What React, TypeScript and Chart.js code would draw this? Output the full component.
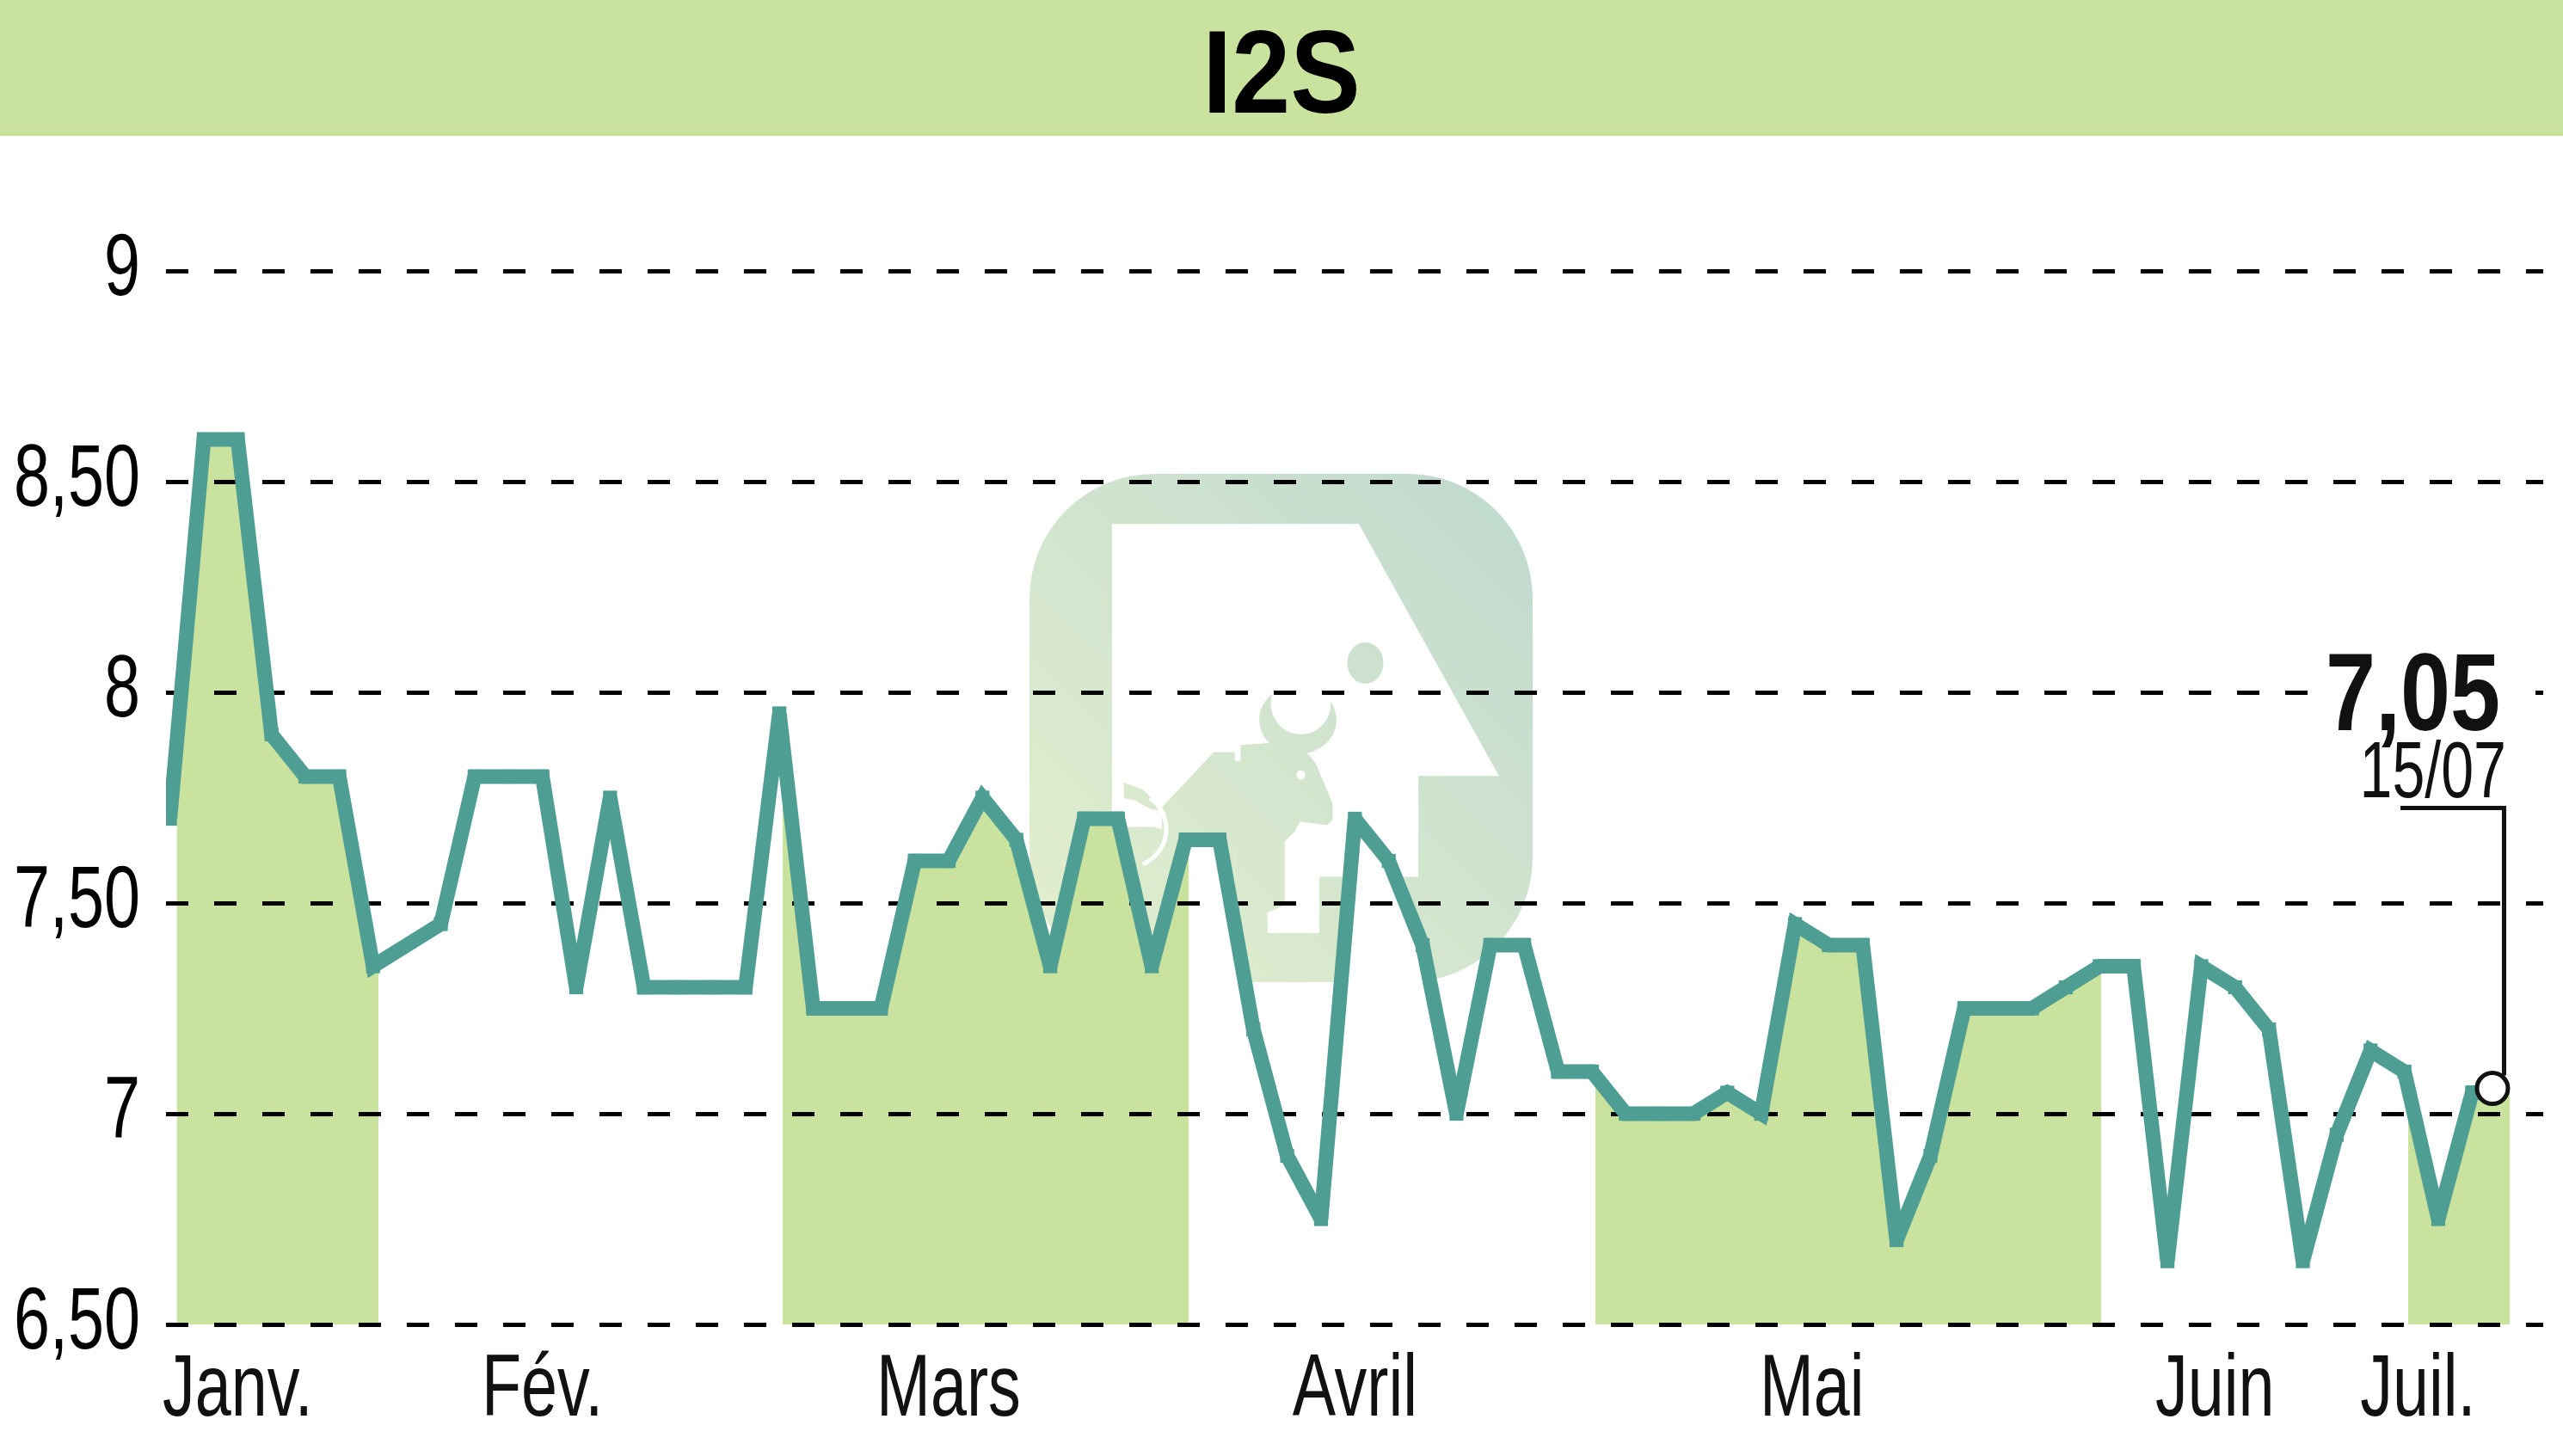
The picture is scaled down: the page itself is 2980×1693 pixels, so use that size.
import React, { useEffect, useRef } from "react";
import { Chart, registerables } from "chart.js";

const sessions = [0,1,2,3,4,5,6,8,9,10,11,12,13,14,15,16,17,18,19,20,21,22,23,24,25,26,27,28,29,30,31,32,33,34,35,36,37,38,39,40,41,42,43,44,45,46,47,48,49,50,51,52,53,54,55,56,57,58,59,60,61,62,63,64,65,66,67,68,68.6];
const prices = [7.7,8.6,8.6,7.9,7.8,7.8,7.35,7.45,7.8,7.8,7.8,7.3,7.75,7.3,7.3,7.3,7.3,7.95,7.25,7.25,7.25,7.6,7.6,7.75,7.65,7.35,7.7,7.7,7.35,7.65,7.65,7.2,6.9,6.75,7.7,7.6,7.4,7.0,7.4,7.4,7.1,7.1,7.0,7.0,7.0,7.05,7.0,7.45,7.4,7.4,6.7,6.9,7.25,7.25,7.25,7.3,7.35,7.35,6.65,7.35,7.3,7.2,6.65,6.95,7.15,7.1,6.75,7.05,7.05];
const lastSession = 68.6;
const lastPrice = 7.06;
const lastPriceLabel = "7,05";
const lastDateLabel = "15/07";
const monthLabels = ["Janv.","Fév.","Mars","Avril","Mai","Juin","Juil."];
const monthTicks = [2,11,23,35,48.5,60.4,66.4];
const shadedMonths = [[0.1,6.15],[18.1,30.1],[42.1,57.05],[66.1,69.1]];
const yTicks = [6.5,7,7.5,8,8.5,9];
const title = "I2S";

const SANS = '"Liberation Sans", sans-serif';
const GREEN = "#C9E39E";
const TEAL = "#4F9E93";
const INK = "#111111";

// No condensed face is installed, so every text is squeezed about its anchor.
const condense = (ctx: any) => {
  if (ctx.__condensed) return;
  ctx.__condensed = true;
  const fill = ctx.fillText.bind(ctx);
  ctx.fillText = (text: string, x: number, y: number) => {
    const bold = String(ctx.font).includes("bold");
    const k = !bold ? 0.74 : text === title ? 0.885 : 0.815;
    ctx.save();
    ctx.translate(x, y);
    ctx.scale(k, 1);
    fill(text, 0, 0);
    ctx.restore();
  };
};

// The watermark logo, traced in page pixels.
const zx = (x: number) => 1150 + x / 2.24;
const zy = (y: number) => 520 + y / 2.412;
const poly = (ctx: CanvasRenderingContext2D, pts: number[][]) => {
  ctx.beginPath();
  pts.forEach(([x, y], i) => (i ? ctx.lineTo(zx(x), zy(y)) : ctx.moveTo(zx(x), zy(y))));
  ctx.closePath();
  ctx.fill();
};

const backdrop = {
  id: "backdrop",
  beforeDraw(chart: any) {
    const ctx: CanvasRenderingContext2D = chart.ctx;
    condense(ctx);
    ctx.save();
    ctx.fillStyle = "#ffffff";
    ctx.fillRect(0, 0, chart.width, chart.height);
    ctx.fillStyle = GREEN;
    ctx.fillRect(0, 0, chart.width, 158);

    const g = ctx.createLinearGradient(1197, 1142, 1782, 551);
    g.addColorStop(0, "#E4F0CD");
    g.addColorStop(1, "#BFD9CF");
    ctx.fillStyle = g;
    ctx.beginPath();
    ctx.roundRect(1197, 551, 585, 591, 145);
    ctx.fill();

    ctx.fillStyle = "#ffffff";
    poly(ctx, [[320,215],[963,215],[1328,922],[1118,922],[1118,1205],[860,1205],[860,1363],[640,1363],[640,1130],[430,1065],[320,1065]]);

    ctx.fillStyle = g;
    poly(ctx, [[450,1010],[585,855],[640,855],[640,880],[655,880],[655,835],[730,830],[830,860],[850,885],[895,1000],[895,1045],[880,1060],[810,1050],[795,1080],[770,1105],[770,1285],[725,1305],[725,1500],[640,1500],[640,1130],[450,1100]]);
    poly(ctx, [[350,940],[400,960],[440,1000],[450,1020],[420,1015],[380,990],[352,985]]);
    ctx.beginPath();
    ctx.ellipse(1509, 837, 45, 40, 0, 0, Math.PI * 2);
    ctx.fill();
    ctx.beginPath();
    ctx.ellipse(1587.5, 771, 21, 24, 0, 0, Math.PI * 2);
    ctx.fill();
    ctx.fillStyle = "#ffffff";
    ctx.beginPath();
    ctx.ellipse(1512.5, 818, 35, 36, 0, 0, Math.PI * 2);
    ctx.fill();
    ctx.beginPath();
    ctx.ellipse(1512.5, 901, 5, 5.5, 0, 0, Math.PI * 2);
    ctx.fill();
    ctx.strokeStyle = "#ffffff";
    ctx.lineWidth = 5;
    ctx.beginPath();
    ctx.ellipse(1306, 964, 50, 46, 0, -0.9, 1.1);
    ctx.stroke();
    ctx.restore();
    ctx.miterLimit = 2;
  },
};

const callout = {
  id: "callout",
  afterDraw(chart: any) {
    const ctx: CanvasRenderingContext2D = chart.ctx;
    const { x, y } = chart.scales;
    const px = x.getPixelForValue(lastSession);
    const py = y.getPixelForValue(lastPrice);
    const eightY = y.getPixelForValue(8);
    ctx.save();
    ctx.fillStyle = "#ffffff";
    ctx.fillRect(px - 200, eightY - 6, 250, 12);
    ctx.strokeStyle = INK;
    ctx.lineWidth = 5;
    ctx.beginPath();
    ctx.moveTo(px - 107, py - 326);
    ctx.lineTo(px + 13.5, py - 326);
    ctx.lineTo(px + 13.5, py - 15);
    ctx.stroke();
    ctx.fillStyle = INK;
    ctx.textAlign = "right";
    ctx.textBaseline = "alphabetic";
    ctx.font = `bold 128px ${SANS}`;
    ctx.fillText(lastPriceLabel, px + 9, py - 417);
    ctx.font = `92px ${SANS}`;
    ctx.fillText(lastDateLabel, px + 16, py - 339);
    ctx.restore();
  },
};

Chart.register(backdrop);
Chart.register(...registerables);

export default function App() {
  const ref = useRef<HTMLCanvasElement>(null);
  useEffect(() => {
    const fillOffset = 0.2;
    const fillTail = { x: 69.2, y: prices[prices.length - 1] };
    const bandFill = (c: any) => {
      const sx = c.chart.scales.x;
      if (!sx || !Number.isFinite(sx.left) || !Number.isFinite(sx.right) || !(sx.right > sx.left)) return GREEN;
      const l = sx.left;
      const w = sx.right - sx.left;
      const g = c.chart.ctx.createLinearGradient(l, 0, sx.right, 0);
      shadedMonths.forEach(([a, b]) => {
        const pa = Math.min(1, Math.max(0, (sx.getPixelForValue(a) - l) / w));
        const pb = Math.min(1, Math.max(0, (sx.getPixelForValue(b) - l) / w));
        g.addColorStop(pa, "#ffffff");
        g.addColorStop(pa, GREEN);
        g.addColorStop(pb, GREEN);
        g.addColorStop(pb, "#ffffff");
      });
      return g;
    };
    const chart = new Chart(ref.current!, {
      type: "line",
      data: {
        datasets: [
          {
            data: [...sessions.slice(0, -1).map((s, i) => ({ x: s + fillOffset, y: prices[i] })), fillTail],
            borderWidth: 0,
            pointRadius: 0,
            backgroundColor: bandFill,
            fill: "origin",
            order: 3,
          },
          {
            data: sessions.map((s, i) => ({ x: s, y: prices[i] })),
            borderColor: TEAL,
            borderWidth: 17,
            borderJoinStyle: "miter",
            borderCapStyle: "butt",
            pointStyle: "rect",
            pointRadius: 11.5,
            pointBorderWidth: 0,
            pointBackgroundColor: TEAL,
            fill: false,
            order: 2,
          },
          {
            data: [{ x: lastSession, y: lastPrice }],
            showLine: false,
            pointRadius: 18,
            pointBorderWidth: 5,
            pointBorderColor: INK,
            pointBackgroundColor: "#ffffff",
            order: 1,
          },
        ],
      } as any,
      options: {
        animation: false,
        responsive: false,
        devicePixelRatio: 1,
        layout: { padding: 0 },
        plugins: {
          legend: { display: false },
          tooltip: { enabled: false },
          filler: { drawTime: "beforeDraw" },
          title: {
            display: true,
            text: title,
            color: "#000000",
            font: { family: SANS, size: 138, weight: "bold", lineHeight: 1 },
            padding: { top: 24, bottom: 153 },
          },
        },
        scales: {
          x: {
            type: "linear",
            bounds: "data",
            min: -0.117,
            max: 70.1,
            grid: { display: false },
            border: { display: false },
            afterFit: (s: any) => { s.height = 153; s.paddingLeft = 0; s.paddingRight = 0; },
            afterBuildTicks: (s: any) => {
              s.ticks = monthTicks.map((value) => ({ value }));
            },
            ticks: {
              autoSkip: false,
              maxRotation: 0,
              color: INK,
              padding: 9,
              font: { family: SANS, size: 102 },
              callback: (v: any) => monthLabels[monthTicks.indexOf(v)],
            },
          },
          y: {
            type: "linear",
            min: 6.5,
            max: 9,
            afterFit: (s: any) => { s.width = 193; s.paddingTop = 0; s.paddingBottom = 0; },
            afterBuildTicks: (s: any) => { s.ticks = yTicks.map((value) => ({ value })); },
            grid: { color: "#000000", lineWidth: 5, drawTicks: false },
            border: { display: false, dash: [26, 30] },
            ticks: {
              color: "#000000",
              padding: 30,
              font: { family: SANS, size: 102 },
              callback: (v: any) => (Number.isInteger(v) ? String(v) : v.toFixed(2).replace(".", ",")),
            },
          },
        },
      } as any,
      plugins: [callout],
    });
    return () => chart.destroy();
  }, []);
  return (
    <div style={{ position: "absolute", left: 0, top: 0 }}>
      <canvas ref={ref} width={2980} height={1693} style={{ display: "block" }} />
    </div>
  );
}
